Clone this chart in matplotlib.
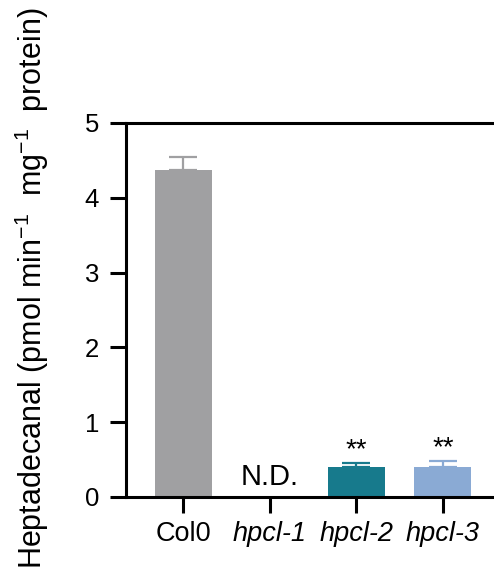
import matplotlib
matplotlib.use("Agg")
import matplotlib.pyplot as plt

genotypes = ["Col0", "hpcl-1", "hpcl-2", "hpcl-3"]
activity = [4.37, 0.0, 0.40, 0.40]
errors = [0.18, 0.0, 0.05, 0.08]
colors = ["#a0a0a2", "#ffffff", "#177a8c", "#8aaad4"]
annotations = ["", "N.D.", "**", "**"]

plt.rcParams["font.family"] = ["Liberation Sans", "DejaVu Sans"]
plt.rcParams["mathtext.fontset"] = "custom"
plt.rcParams["mathtext.rm"] = "Liberation Sans"

fig = plt.figure(figsize=(4.94, 5.81), dpi=100)
ax = fig.add_axes([0.255, 0.1446, 0.745, 0.6437])

x = list(range(len(genotypes)))
ax.bar(x, activity, width=0.66, color=colors, zorder=2)
for xi, v, e in zip(x, activity, errors):
    if e > 0:
        ax.errorbar(xi, v, yerr=[[0], [e]], fmt="none", ecolor=colors[xi],
                    elinewidth=1.6, capsize=10, capthick=1.6, zorder=1)

for xi, v, e, a in zip(x, activity, errors, annotations):
    if a == "N.D.":
        ax.text(xi, 0.08, a, ha="center", va="bottom", fontsize=21)
    elif a:
        ax.text(xi, v + e, a, ha="center", va="bottom", fontsize=20)

ax.set_xlim(-0.66, 3.59)
ax.set_ylim(0, 5)
ax.set_yticks([0, 1, 2, 3, 4, 5])
ax.set_xticks(x)
ax.set_xticklabels(genotypes)
for lbl in ax.get_xticklabels()[1:]:
    lbl.set_style("italic")
ax.tick_params(axis="both", width=2.2, length=11.5, direction="out")
ax.tick_params(axis="x", labelsize=19.5, pad=6)
ax.tick_params(axis="y", labelsize=18.5, pad=8)

ax.spines["right"].set_visible(False)
for s in ["left", "bottom", "top"]:
    ax.spines[s].set_linewidth(2.2)

fig.text(32 / 494, 1 - 288 / 581,
         "Heptadecanal (pmol min$^{\\mathrm{-1}}$  mg$^{\\mathrm{-1}}$  protein)",
         rotation=90, ha="center", va="center", fontsize=22)

fig.savefig("out.png", dpi=100)
